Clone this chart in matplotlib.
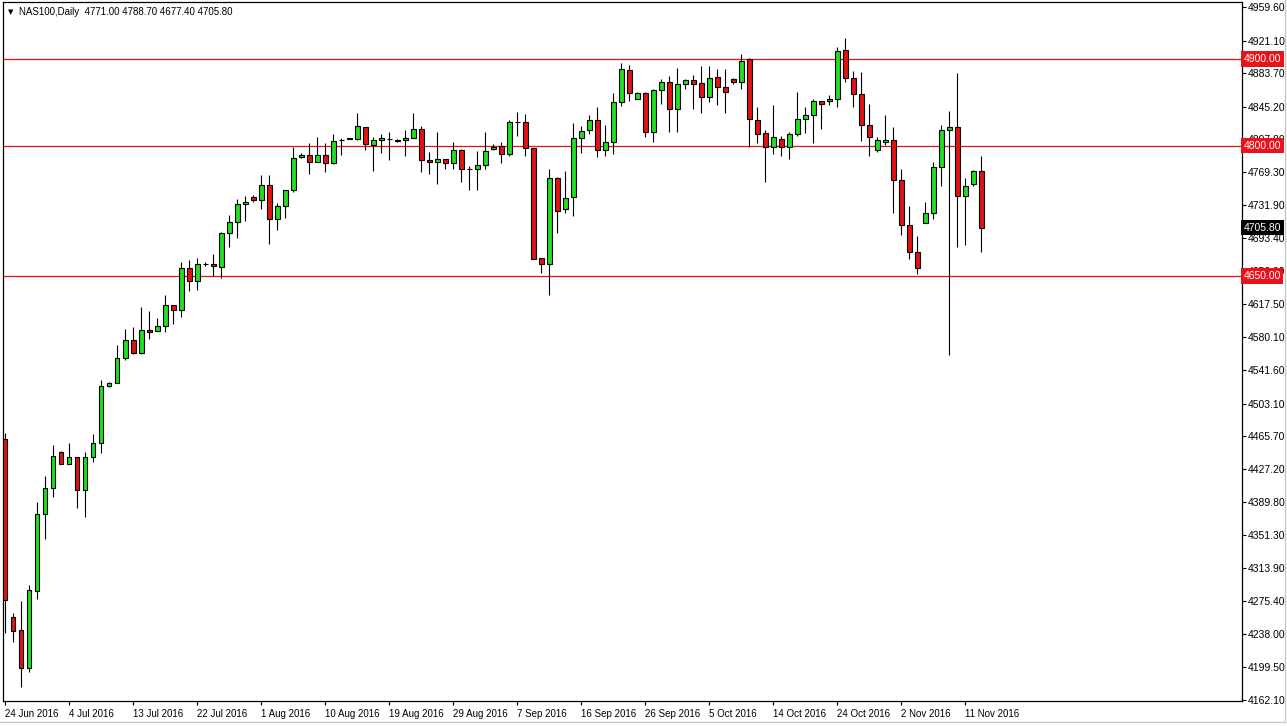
import matplotlib.pyplot as plt
from matplotlib.lines import Line2D
import numpy as np

plt.rcParams['font.family'] = ['Liberation Sans', 'DejaVu Sans']

# NAS100 daily candles, 24 Jun 2016 .. 15 Nov 2016
opens = [4462.3, 4257.2, 4242.2, 4198.5, 4287.2, 4375.9, 4405.8, 4447.3, 4433.5, 4441.5,
         4403.5, 4441.5, 4457.7, 4523.3, 4526.8, 4555.6, 4576.3, 4561.3, 4587.8, 4586.7,
         4592.4, 4616.6, 4610.9, 4659.3, 4644.3, 4663.9, 4663.9, 4660.4, 4699.6, 4712.3,
         4733.0, 4741.1, 4737.6, 4754.9, 4715.7, 4730.7, 4749.1, 4787.1, 4789.4, 4781.4,
         4789.4, 4780.2, 4806.7, 4807.9, 4807.9, 4821.7, 4801.0, 4806.7, 4807.9, 4806.7,
         4806.7, 4809.0, 4819.4, 4783.7, 4781.4, 4784.8, 4780.2, 4795.2, 4773.3, 4773.3,
         4777.9, 4796.4, 4799.8, 4790.6, 4827.5, 4827.5, 4797.5, 4670.8, 4663.9, 4762.9,
         4727.2, 4741.1, 4809.0, 4818.2, 4829.8, 4795.2, 4804.4, 4850.5, 4887.4, 4854.0,
         4860.9, 4815.9, 4864.3, 4873.5, 4842.4, 4871.2, 4875.8, 4872.4, 4856.3, 4879.3,
         4867.8, 4877.0, 4873.5, 4900.0, 4829.8, 4814.8, 4798.7, 4807.9, 4798.7, 4813.6,
         4830.9, 4835.5, 4851.6, 4851.6, 4854.0, 4910.4, 4878.1, 4859.7, 4824.0, 4795.2,
         4804.4, 4806.7, 4760.6, 4708.8, 4677.7, 4711.1, 4722.6, 4775.6, 4818.2, 4821.7,
         4742.2, 4756.0, 4771.0]
highs = [4469.2, 4261.8, 4275.6, 4294.1, 4389.7, 4419.6, 4455.4, 4448.4, 4457.7, 4441.5,
         4447.3, 4468.0, 4530.2, 4527.9, 4570.6, 4589.0, 4591.3, 4614.3, 4609.7, 4601.7,
         4628.2, 4616.6, 4666.2, 4668.5, 4670.8, 4666.2, 4675.4, 4700.7, 4720.3, 4738.8,
         4742.2, 4743.4, 4766.4, 4766.4, 4734.1, 4749.1, 4798.7, 4791.7, 4803.3, 4810.2,
         4803.3, 4813.6, 4809.0, 4809.0, 4837.8, 4821.7, 4810.2, 4813.6, 4815.9, 4807.9,
         4818.2, 4837.8, 4822.8, 4792.9, 4815.9, 4784.8, 4804.4, 4796.4, 4776.8, 4794.0,
         4815.9, 4802.1, 4804.4, 4829.8, 4839.0, 4836.7, 4797.5, 4670.8, 4773.3, 4764.1,
         4771.0, 4826.3, 4822.8, 4835.5, 4844.7, 4824.0, 4860.9, 4895.4, 4893.1, 4862.0,
         4862.0, 4865.5, 4877.0, 4880.4, 4889.7, 4877.0, 4881.6, 4892.0, 4892.0, 4888.5,
         4888.5, 4878.1, 4905.8, 4901.2, 4844.7, 4818.2, 4847.0, 4811.3, 4815.9, 4862.0,
         4844.7, 4854.0, 4851.6, 4858.6, 4913.9, 4924.2, 4886.2, 4885.1, 4848.2, 4810.2,
         4835.5, 4821.7, 4773.3, 4730.7, 4696.1, 4735.3, 4781.4, 4824.0, 4840.1, 4883.9,
         4762.9, 4772.2, 4788.7]
lows = [4238.8, 4228.4, 4176.6, 4193.9, 4278.0, 4347.1, 4395.5, 4433.5, 4433.5, 4382.8,
        4372.4, 4435.8, 4446.1, 4522.2, 4526.8, 4553.3, 4560.2, 4560.2, 4577.5, 4586.7,
        4585.5, 4594.8, 4602.8, 4632.8, 4633.9, 4661.6, 4650.0, 4647.7, 4683.5, 4693.8,
        4713.4, 4735.3, 4727.2, 4686.9, 4703.0, 4716.9, 4746.8, 4786.0, 4767.6, 4781.4,
        4769.9, 4779.1, 4789.4, 4807.9, 4806.7, 4795.2, 4771.0, 4791.7, 4783.7, 4804.4,
        4788.3, 4809.0, 4769.9, 4767.6, 4756.0, 4773.3, 4773.3, 4758.3, 4749.1, 4749.1,
        4773.3, 4795.2, 4780.2, 4788.3, 4811.3, 4788.3, 4669.6, 4653.5, 4628.2, 4699.6,
        4722.6, 4719.2, 4791.7, 4813.6, 4787.1, 4788.3, 4790.6, 4845.9, 4851.6, 4854.0,
        4810.2, 4804.4, 4848.2, 4815.9, 4815.9, 4865.5, 4842.4, 4837.8, 4850.5, 4847.0,
        4837.8, 4871.2, 4865.5, 4798.7, 4803.3, 4758.3, 4790.6, 4788.3, 4784.8, 4811.3,
        4814.8, 4803.3, 4819.4, 4847.0, 4844.7, 4873.5, 4844.7, 4805.6, 4788.3, 4792.9,
        4801.0, 4722.6, 4697.3, 4669.6, 4652.4, 4711.1, 4715.7, 4753.7, 4559.0, 4683.5,
        4685.8, 4753.7, 4677.4]
closes = [4276.8, 4241.1, 4198.5, 4288.3, 4375.9, 4405.8, 4442.7, 4433.5, 4441.5, 4403.5,
          4441.5, 4457.7, 4523.3, 4526.8, 4555.6, 4576.3, 4561.3, 4587.8, 4585.5, 4592.4,
          4616.6, 4610.9, 4659.3, 4644.3, 4663.9, 4663.9, 4661.6, 4699.6, 4712.3, 4733.0,
          4735.3, 4737.6, 4754.9, 4715.7, 4730.7, 4749.1, 4786.0, 4789.4, 4781.4, 4789.4,
          4780.2, 4805.6, 4806.7, 4809.0, 4822.8, 4802.1, 4806.7, 4809.0, 4807.9, 4805.6,
          4809.0, 4819.4, 4783.7, 4781.4, 4784.8, 4780.2, 4795.2, 4773.3, 4773.3, 4777.9,
          4794.0, 4798.7, 4790.6, 4827.5, 4827.5, 4797.5, 4669.6, 4663.9, 4762.9, 4724.9,
          4739.9, 4809.0, 4817.1, 4829.8, 4795.2, 4804.4, 4850.5, 4888.5, 4860.9, 4860.9,
          4815.9, 4864.3, 4873.5, 4842.4, 4871.2, 4875.8, 4871.2, 4856.3, 4878.1, 4867.8,
          4862.0, 4873.5, 4897.7, 4830.9, 4813.6, 4798.7, 4810.2, 4798.7, 4813.6, 4830.9,
          4835.5, 4851.6, 4848.2, 4854.0, 4909.2, 4878.1, 4859.7, 4824.0, 4810.2, 4806.7,
          4806.7, 4760.6, 4708.8, 4677.7, 4659.3, 4722.6, 4775.6, 4818.2, 4821.7, 4742.2,
          4753.7, 4771.0, 4705.8]

levels = [4900.0, 4800.0, 4650.0]
last_price = 4705.8
price_ticks = [4959.6, 4921.1, 4883.7, 4845.2, 4807.8, 4769.3, 4731.9, 4693.4, 4656.0,
               4617.5, 4580.1, 4541.6, 4503.1, 4465.7, 4427.2, 4389.8, 4351.3, 4313.9,
               4275.4, 4238.0, 4199.5, 4162.1]
date_labels = ['24 Jun 2016', '4 Jul 2016', '13 Jul 2016', '22 Jul 2016', '1 Aug 2016',
               '10 Aug 2016', '19 Aug 2016', '29 Aug 2016', '7 Sep 2016', '16 Sep 2016',
               '26 Sep 2016', '5 Oct 2016', '14 Oct 2016', '24 Oct 2016', '2 Nov 2016',
               '11 Nov 2016']
date_pos = list(range(0, 8 * len(date_labels), 8))

W, H = 1287, 726
fig = plt.figure(figsize=(W / 100, H / 100), dpi=100)
fig.patch.set_facecolor('white')
ax = fig.add_axes([3 / W, 25 / H, 1239 / W, 699 / H])

o = np.array(opens)
c = np.array(closes)
x = np.arange(len(o))
up = c >= o

ax.vlines(x, lows, highs, color='black', lw=0.8, zorder=2)
ax.bar(x, np.abs(c - o), bottom=np.minimum(o, c), width=0.62,
       color=np.where(up, '#22dd22', '#e01414'), edgecolor='black',
       linewidth=0.8, zorder=3)

for lv in levels:
    ax.axhline(lv, color='#e01414', lw=0.9, zorder=1)

ax.set_xlim(-0.25, 154.6)
ax.set_ylim(4160.4, 4965.7)

for s in ax.spines.values():
    s.set_color('black')
    s.set_linewidth(0.9)

ax.yaxis.tick_right()
ax.set_yticks(price_ticks)
ax.set_yticklabels([f'{v:.2f}' for v in price_ticks])
ax.set_xticks(date_pos)
ax.set_xticklabels(date_labels, ha='left')
ax.tick_params(axis='both', length=3, width=0.8, color='black', pad=1.5)
ax.tick_params(axis='y', labelsize=7.5)
ax.tick_params(axis='x', labelsize=7, pad=3)

ytr = ax.get_yaxis_transform()
for lv in levels:
    ax.text(1.0012, lv, f'{lv:.2f}', transform=ytr, ha='left', va='center',
            fontsize=7.5, color='white', clip_on=False, zorder=5,
            bbox=dict(boxstyle='square,pad=0.25', fc='#e8141b', ec='none'))
ax.text(1.0012, last_price, f'{last_price:.2f}', transform=ytr, ha='left', va='center',
        fontsize=7.5, color='white', clip_on=False, zorder=5,
        bbox=dict(boxstyle='square,pad=0.25', fc='black', ec='none'))

fig.text(8 / W, 1 - 12 / H, '\u25bc', fontsize=5, va='center', ha='left',
         family='DejaVu Sans')
fig.text(19 / W, 1 - 12 / H, 'NAS100,Daily  4771.00 4788.70 4677.40 4705.80',
         fontsize=7, va='center', ha='left')

# window border
fig.add_artist(Line2D([1285 / W, 1285 / W], [4 / H, 1], color='#c8c8c8', lw=1))
fig.add_artist(Line2D([0, 1285 / W], [4 / H, 4 / H], color='#c8c8c8', lw=1))

fig.savefig('out.png', dpi=100)
